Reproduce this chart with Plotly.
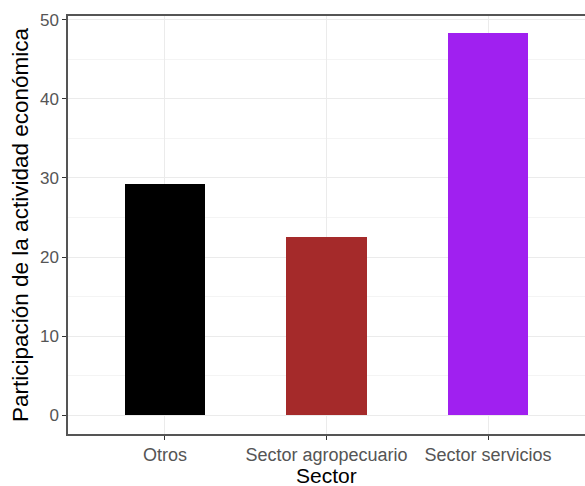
import plotly.graph_objects as go

sectores = ["Otros", "Sector agropecuario", "Sector servicios"]
participacion = [29.2, 22.5, 48.35]
colores = ["#000000", "#A52A2A", "#A020F0"]
y_ticks = [0, 10, 20, 30, 40, 50]

fig = go.Figure()
fig.add_trace(go.Bar(
    x=sectores, y=participacion, width=0.5,
    marker=dict(color=colores, line=dict(width=0)),
    showlegend=False,
))

fig.update_layout(
    width=585, height=486,
    margin=dict(l=68, r=0, t=16, b=52),
    paper_bgcolor="white", plot_bgcolor="white",
    font=dict(family="Liberation Sans, Arial, sans-serif", color="#4D4D4D"),
    bargap=0,
)
fig.update_xaxes(
    range=[-0.6, 2.6], automargin=False,
    showgrid=True, gridcolor="#EBEBEB", gridwidth=1,
    showline=True, linecolor="#555555", linewidth=1.5, mirror=True,
    ticks="outside", ticklen=4, tickcolor="#333333", tickwidth=1,
    tickfont=dict(size=18, color="#555555"),
    zeroline=False,
)
fig.update_yaxes(
    range=[-2.4, 50.5], automargin=False,
    tickvals=y_ticks,
    showgrid=True, gridcolor="#EBEBEB", gridwidth=1,
    minor=dict(dtick=5, tick0=0, showgrid=True, gridcolor="#F4F4F4", gridwidth=0.6),
    showline=True, linecolor="#555555", linewidth=1.5, mirror=True,
    ticks="outside", ticklen=4, tickcolor="#333333", tickwidth=1,
    tickfont=dict(size=17, color="#555555"),
    title=dict(text="Participación de la actividad económica",
               font=dict(size=22.5, color="black"), standoff=5),
    zeroline=False,
)
fig.add_annotation(
    text="Sector", xref="paper", yref="paper", x=0.5, y=-0.099,
    xanchor="center", yanchor="middle", showarrow=False,
    font=dict(size=21, color="black"),
)

fig.write_html(
    "out.html",
    config={"displayModeBar": False},
    post_script="document.body.style.margin='0';document.body.style.overflow='hidden';",
)
